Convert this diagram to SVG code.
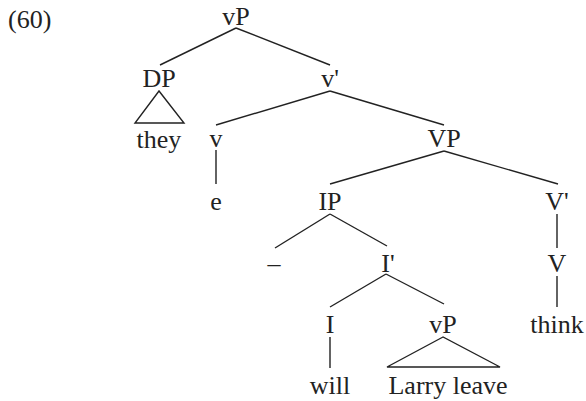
<svg xmlns="http://www.w3.org/2000/svg" width="586" height="401" viewBox="0 0 586 401">
<style>
text{font-family:"Liberation Serif","Times New Roman",serif;font-size:26px;fill:#222;text-anchor:middle}
.e{stroke:#222;stroke-width:1.4;fill:none}
</style>
<rect width="586" height="401" fill="#fff"/>
<text x="8" y="28" style="text-anchor:start">(60)</text>
<g id="connectors">
<line class="e" x1="236" y1="28" x2="160" y2="65"/>
<line class="e" x1="236" y1="28" x2="330" y2="65"/>
<polygon class="e" points="159,91 135,123 184,123"/>
<line class="e" x1="330" y1="91" x2="216" y2="125"/>
<line class="e" x1="330" y1="91" x2="444" y2="125"/>
<line class="e" x1="216" y1="150" x2="216" y2="184"/>
<line class="e" x1="444" y1="151" x2="330" y2="184"/>
<line class="e" x1="444" y1="151" x2="558" y2="184"/>
<line class="e" x1="330" y1="214" x2="275" y2="248"/>
<line class="e" x1="330" y1="214" x2="387" y2="246"/>
<line class="e" x1="386" y1="274" x2="330" y2="307"/>
<line class="e" x1="386" y1="274" x2="444" y2="304"/>
<line class="e" x1="330" y1="337" x2="330" y2="368"/>
<polygon class="e" points="443,337 387,367 500,367"/>
<line class="e" x1="557" y1="214" x2="557" y2="248"/>
<line class="e" x1="557" y1="276" x2="557" y2="307"/>
</g>
<g id="vP1"><text x="236" y="25">vP</text></g>
<g id="DP"><text x="159" y="87">DP</text></g>
<g id="they"><text x="159" y="148">they</text></g>
<g id="vbar"><text x="330" y="87">v'</text></g>
<g id="v"><text x="216" y="147">v</text></g>
<g id="e"><text x="216" y="210">e</text></g>
<g id="VP"><text x="444" y="147">VP</text></g>
<g id="IP"><text x="330" y="210">IP</text></g>
<g id="Vbar"><text x="557" y="210">V'</text></g>
<g id="dash"><text x="274" y="272">–</text></g>
<g id="Ibar"><text x="388" y="272">I'</text></g>
<g id="V"><text x="557" y="272">V</text></g>
<g id="I"><text x="330" y="333">I</text></g>
<g id="vP2"><text x="443" y="333">vP</text></g>
<g id="think"><text x="557" y="333">think</text></g>
<g id="will"><text x="330" y="394">will</text></g>
<g id="larry"><text x="448" y="394">Larry leave</text></g>
</svg>
